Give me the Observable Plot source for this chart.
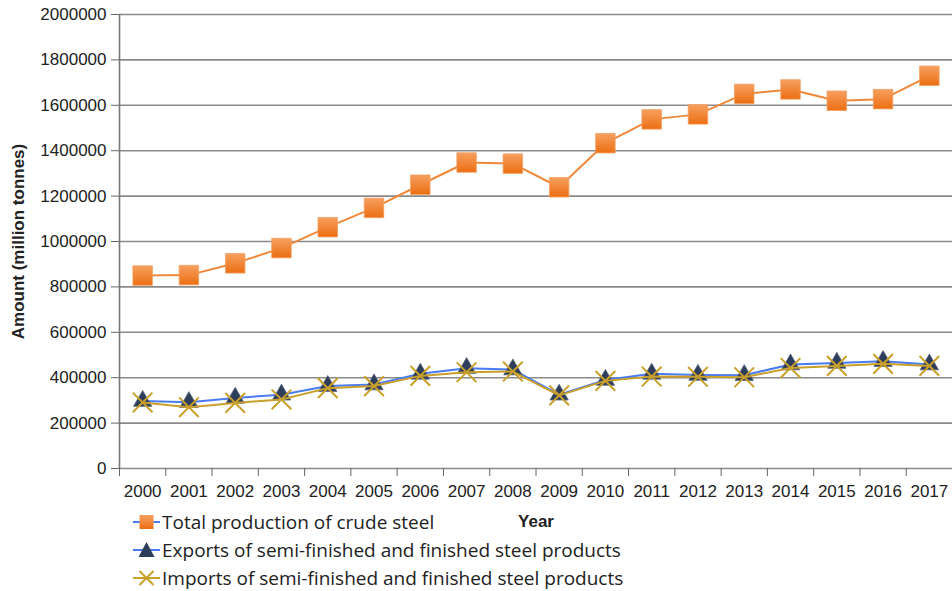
<!DOCTYPE html>
<html><head><meta charset="utf-8">
<script src="https://cdn.jsdelivr.net/npm/d3@7"></script>
<script src="https://cdn.jsdelivr.net/npm/@observablehq/plot@0.6"></script>
<style>
body{margin:0;background:#fff;}
#wrap{position:relative;width:952px;height:591px;overflow:hidden;background:#fff;}
#chart svg{display:block;}
g[aria-label="y-axis label"] text, g[aria-label="x-axis label"] text{font-weight:bold;}
.legend{position:absolute;left:133px;top:508px;font-family:"Open Sans",sans-serif;font-size:19px;color:#222;}
.row{display:flex;align-items:center;height:28px;white-space:nowrap;}
.row svg{margin-right:1px;}
</style>
</head><body>
<div id="wrap"><div id="chart"></div><div class="legend" id="legend"></div></div>
<script>
const years = [2000,2001,2002,2003,2004,2005,2006,2007,2008,2009,2010,2011,2012,2013,2014,2015,2016,2017];
const totalProduction = [850000,852000,904000,971000,1063000,1148000,1250000,1348000,1343000,1239000,1433000,1538000,1560000,1650000,1670000,1620000,1627000,1730000];
const exportsSteel = [297000,292000,311000,325000,363000,370000,417000,442000,436000,325000,390000,417000,412000,411000,458000,465000,473000,458000];
const importsSteel = [291000,270000,289000,304000,354000,363000,408000,424000,427000,322000,386000,405000,404000,402000,443000,452000,461000,452000];
const yTicks = [0,200000,400000,600000,800000,1000000,1200000,1400000,1600000,1800000,2000000];
const seriesNames = ["Total production of crude steel","Exports of semi-finished and finished steel products","Imports of semi-finished and finished steel products"];
const colors = {orange:"#F0883A", blue:"#4A7BF2", navy:"#2E3D5A", gold:"#C9A02C"};

const xDomain = [years[0]-0.5, years[years.length-1]+0.5];
const boundaries = years.map(y => y - 0.5).concat([years[years.length-1]+0.5]);
const rows = (vals) => years.map((y,i) => ({year:y, value:vals[i]}));
const tot = rows(totalProduction), exp = rows(exportsSteel), imp = rows(importsSteel);

const chart = Plot.plot({
  width: 952, height: 591,
  marginLeft: 119, marginRight: 0, marginTop: 14, marginBottom: 123,
  style: {fontFamily: "Liberation Sans, Arial, sans-serif", fontSize: "17px", color: "#222", background: "#fff"},
  x: {domain: xDomain, axis: null},
  y: {domain: [0, 2000000], axis: null},
  marks: [
    Plot.gridY(yTicks, {stroke: "#8a8a8a", strokeOpacity: 1, strokeWidth: 1.6}),
    Plot.ruleX([xDomain[0]], {stroke: "#777", strokeWidth: 1.6}),
    Plot.axisY({ticks: yTicks, tickSize: 8, tickPadding: 5, tickFormat: d3.format("d"), stroke: "#666",
      label: "Amount (million tonnes)", labelAnchor: "center", labelOffset: 108, labelArrow: "none"}),
    Plot.axisX({ticks: boundaries, tickSize: 8, tickFormat: () => "", stroke: "#666", label: null}),
    Plot.axisX({ticks: years, tickSize: 0, tickPadding: 16, tickFormat: d => String(d),
      label: "Year", labelAnchor: "center", labelOffset: 58, labelArrow: "none"}),
    Plot.line(tot, {x: "year", y: "value", stroke: colors.orange, strokeWidth: 2}),
    Plot.dot(tot, {x: "year", y: "value", symbol: "square", r: 11, fill: "url(#sqgrad)", stroke: "#F4A060", strokeWidth: 0.8}),
    Plot.line(exp, {x: "year", y: "value", stroke: colors.blue, strokeWidth: 2}),
    Plot.dot(exp, {x: "year", y: "value", symbol: "triangle", r: 6.8, fill: colors.navy, stroke: "#55647e", strokeWidth: 0.8}),
    Plot.line(imp, {x: "year", y: "value", stroke: colors.gold, strokeWidth: 2}),
    Plot.dot(imp, {x: "year", y: "value", symbol: "times", r: 9, stroke: colors.gold, strokeWidth: 2})
  ]
});
const ns = "http://www.w3.org/2000/svg";
const defs = document.createElementNS(ns, "defs");
defs.innerHTML = '<linearGradient id="sqgrad" x1="0" y1="0" x2="0" y2="1"><stop offset="0" stop-color="#F6A060"/><stop offset="1" stop-color="#EC6E12"/></linearGradient>';
chart.insertBefore(defs, chart.firstChild);
document.getElementById("chart").appendChild(chart);

const swatches = [
  '<line x1="0" y1="9" x2="27" y2="9" stroke="'+colors.blue+'" stroke-width="2"/><rect x="6.5" y="2" width="14" height="14" fill="url(#sqgrad2)"/>',
  '<line x1="0" y1="9" x2="27" y2="9" stroke="'+colors.blue+'" stroke-width="2"/><path d="M13.5,1 L21.5,16 L5.5,16 Z" fill="'+colors.navy+'"/>',
  '<line x1="0" y1="9" x2="27" y2="9" stroke="'+colors.gold+'" stroke-width="2"/><path d="M6.5,2 L20.5,16 M20.5,2 L6.5,16" stroke="'+colors.gold+'" stroke-width="2"/>'
];
const lg = document.getElementById("legend");
seriesNames.forEach((name, i) => {
  const r = document.createElement("div");
  r.className = "row";
  r.innerHTML = '<svg width="28" height="18"><defs><linearGradient id="sqgrad2" x1="0" y1="0" x2="0" y2="1"><stop offset="0" stop-color="#F6A060"/><stop offset="1" stop-color="#EC6E12"/></linearGradient></defs>' + swatches[i] + '</svg><span>' + name + '</span>';
  lg.appendChild(r);
});
</script>
</body></html>
